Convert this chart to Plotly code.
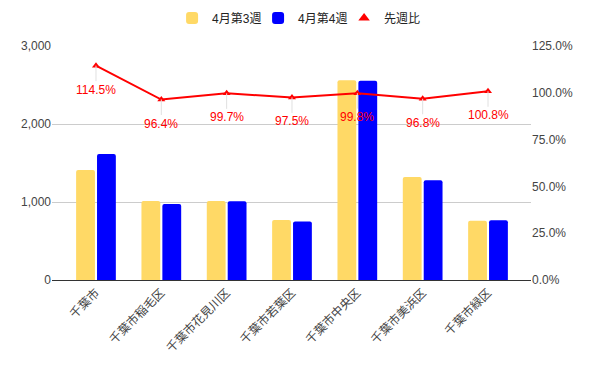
import plotly.graph_objects as go

categories = ["千葉市", "千葉市稲毛区", "千葉市花見川区", "千葉市若葉区", "千葉市中央区", "千葉市美浜区", "千葉市緑区"]
week3 = [1410, 1012, 1014, 770, 2560, 1320, 760]
week4 = [1615, 975, 1011, 751, 2555, 1278, 766]
ratio = [1.145, 0.964, 0.997, 0.975, 0.998, 0.968, 1.008]
ratio_labels = ["114.5%", "96.4%", "99.7%", "97.5%", "99.8%", "96.8%", "100.8%"]

FONT = "Arial, 'Liberation Sans', 'Noto Sans CJK JP', sans-serif"
idx = list(range(len(categories)))

fig = go.Figure()
fig.add_trace(go.Bar(x=idx, y=week3, name="4月第3週", marker_color="#FFD966", marker_line_width=0))
fig.add_trace(go.Bar(x=idx, y=week4, name="4月第4週", marker_color="#0000FF", marker_line_width=0))
fig.add_trace(go.Scatter(x=idx, y=ratio, yaxis="y2", mode="lines+markers", name="先週比",
                         line=dict(color="#FF0000", width=2),
                         marker=dict(symbol="triangle-up", size=7, color="#FF0000"),
                         showlegend=False, legendgroup="r"))
fig.add_trace(go.Scatter(x=[None], y=[None], yaxis="y2", mode="markers", name="先週比",
                         marker=dict(symbol="triangle-up", size=10, color="#FF0000"),
                         legendgroup="r"))

for i, (r, lab) in enumerate(zip(ratio, ratio_labels)):
    fig.add_annotation(x=i, y=r, xref="x", yref="y2", text=lab, showarrow=True,
                       arrowhead=0, arrowwidth=1, arrowcolor="#E0E0E0", ax=0, ay=24,
                       standoff=0, font=dict(color="#FF0000", size=12, family=FONT))

fig.update_layout(
    width=587, height=358,
    margin=dict(l=44, r=64, t=38, b=86, autoexpand=False),
    plot_bgcolor="white", paper_bgcolor="white",
    font=dict(family=FONT, size=12, color="#444444"),
    barmode="group", bargap=0.36, bargroupgap=0.1, barcornerradius=2,
    showlegend=True,
    legend=dict(orientation="h", x=0.52, xanchor="center", y=1.12, yanchor="middle",
                font=dict(size=12, color="#222222"), itemwidth=30,
                entrywidth=41, entrywidthmode="pixels"),
    xaxis=dict(tickmode="array", tickvals=idx, ticktext=categories, tickangle=-45,
               range=[-0.673, 6.658], showgrid=False, zeroline=False, automargin=False,
               showline=True, linecolor="#333333", linewidth=1, ticks=""),
    yaxis=dict(range=[0, 3000], dtick=1000, tickformat=",", showgrid=True, automargin=False,
               gridcolor="#CCCCCC", zeroline=False, ticks="", showline=False),
    yaxis2=dict(range=[0, 1.25], dtick=0.25, tickformat=".1%", overlaying="y", side="right",
                automargin=False,
                showgrid=False, zeroline=False, ticks="", showline=False),
)

fig.write_html("out.html")
